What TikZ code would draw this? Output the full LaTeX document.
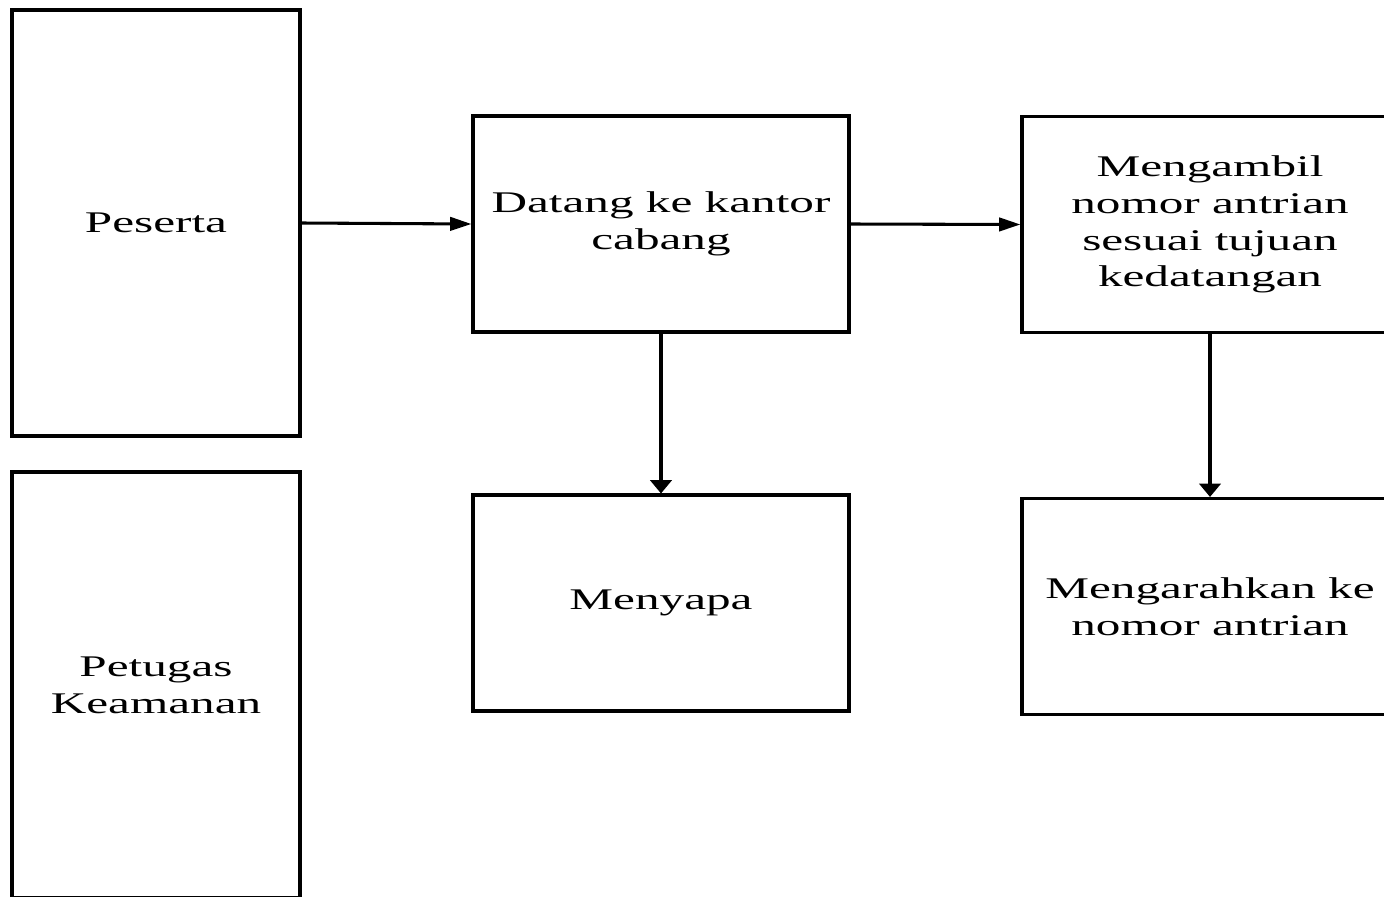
\documentclass[tikz,border=0pt]{standalone}
\usepackage{fontspec}
\setmainfont{Liberation Serif}[FakeStretch=1.64]
\usetikzlibrary{arrows.meta}
\begin{document}
\begin{tikzpicture}[x=0.75pt,y=-0.75pt,
  box/.style={draw, line width=2.3pt, inner sep=0pt, align=center,
    font=\fontsize{22.5}{27.5}\selectfont},
  lane/.style={box, minimum width=216pt, minimum height=319.5pt},
  stepbox/.style={box, minimum width=282pt, minimum height=162pt},
  harrow/.style={line width=2.3pt, -{Triangle[length=16pt,width=10pt]}},
  varrow/.style={line width=2.3pt, -{Triangle[length=10pt,width=16pt]}}]
\useasboundingbox (0,0) rectangle (1384,896);
\clip (0,0) rectangle (1384,896);
\fill[white] (0,0) rectangle (1384,896);

% swimlane labels
\node[lane] (peserta) at (156,223) {Peserta};
\node[lane] (petugas) at (156,685) {Petugas\\Keamanan};

% process steps
\node[stepbox] (datang)  at (661,224)   {Datang ke kantor\\cabang};
\node[stepbox] (ambil)   at (1210,224.5) {Mengambil\\nomor antrian\\sesuai tujuan\\kedatangan};
\node[stepbox] (sapa)    at (661,603)   {Menyapa};
\node[stepbox] (arahkan) at (1210,606.5) {Mengarahkan ke\\nomor antrian};

% flow
\draw[harrow] (peserta.east) -- (datang.west);
\draw[harrow] (datang.east) -- (ambil.west);
\draw[varrow] (datang.south) -- (sapa.north);
\draw[varrow] (ambil.south) -- (arahkan.north);
\end{tikzpicture}
\end{document}
